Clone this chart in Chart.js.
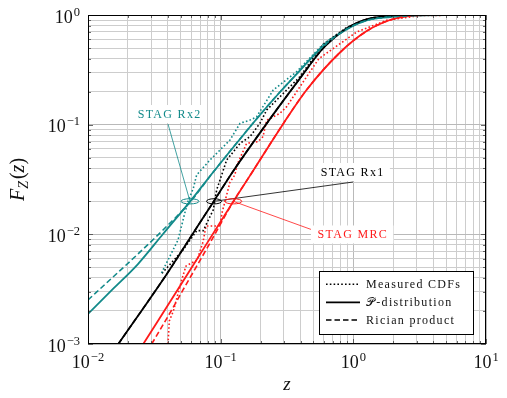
<!DOCTYPE html>
<html>
<head>
<meta charset="utf-8">
<script src="https://cdn.jsdelivr.net/npm/chart.js@4.4.0/dist/chart.umd.min.js"></script>
<style>
html, body { margin: 0; padding: 0; background: #fff; }
</style>
</head>
<body>
<canvas id="graph1" width="507" height="398"></canvas>
<script>
// --- data (z, F_Z(z)) ---
// STAG Rx2 (teal)
const rx2_meas_z  = [0.0358, 0.0401, 0.0477, 0.0536, 0.0567, 0.0622, 0.0659, 0.0831, 0.0989, 0.1176, 0.140, 0.1663, 0.1868, 0.249, 0.374, 0.594, 0.891, 1.261, 1.89, 3.18];
const rx2_meas_f  = [0.00444, 0.00583, 0.00888, 0.01555, 0.0199, 0.0263, 0.0348, 0.0476, 0.0587, 0.0725, 0.1029, 0.110, 0.118, 0.207, 0.304, 0.544, 0.76, 0.905, 0.97, 1];
const rx2_pdist_z = [0.01, 0.01543, 0.0238, 0.03675, 0.0587, 0.088, 0.1977, 0.280, 0.374, 0.594, 0.891, 1.261, 1.89, 3.18, 5.35, 10];
const rx2_pdist_f = [0.00188, 0.003175, 0.00536, 0.01007, 0.01988, 0.0370, 0.1225, 0.1986, 0.2897, 0.5216, 0.742, 0.893, 0.959, 0.9916, 0.999, 1];
const rx2_rice_z  = [0.01, 0.01543, 0.0238, 0.03675, 0.0587, 0.088, 0.1977, 0.280, 0.374, 0.594, 0.891, 1.261, 1.89, 3.18, 5.35, 10];
const rx2_rice_f  = [0.00252, 0.00408, 0.00662, 0.01095, 0.0196, 0.0370, 0.1225, 0.1986, 0.2897, 0.5216, 0.742, 0.893, 0.959, 0.9916, 0.999, 1];

// STAG Rx1 (black)
const rx1_meas_z  = [0.0361, 0.052, 0.066, 0.074, 0.0785, 0.0879, 0.0933, 0.111, 0.140, 0.1663, 0.1977, 0.2223, 0.3145, 0.396, 0.59, 0.891, 1.261, 1.89, 3.18];
const rx1_meas_f  = [0.00441, 0.0072, 0.0108, 0.0108, 0.0126, 0.0167, 0.0254, 0.0476, 0.0676, 0.0777, 0.1029, 0.136, 0.207, 0.274, 0.54, 0.77, 0.91, 0.975, 1];
const rx1_pdist_z = [0.01692, 0.0401, 0.0567, 0.0891, 0.1245, 0.2355, 0.396, 0.590, 0.891, 1.261, 1.89, 3.18, 10];
const rx1_pdist_f = [0.001, 0.00452, 0.00866, 0.02018, 0.0378, 0.1129, 0.2642, 0.495, 0.7549, 0.912, 0.981, 0.998, 1];
const rx1_rice_z  = [0.01692, 0.0401, 0.0567, 0.0891, 0.1245, 0.2355, 0.396, 0.590, 0.891, 1.261, 1.89, 3.18, 10];
const rx1_rice_f  = [0.001, 0.00452, 0.00866, 0.02018, 0.0378, 0.1129, 0.2642, 0.495, 0.7549, 0.912, 0.981, 0.998, 1];

// STAG MRC (red)
const mrc_meas_z  = [0.0401, 0.041, 0.044, 0.0511, 0.0548, 0.0664, 0.0736, 0.0775, 0.0989, 0.1023, 0.1176, 0.128, 0.1328, 0.157, 0.191, 0.2085, 0.2223, 0.280, 0.3145, 0.396, 0.55, 1.06, 1.785, 3.18, 10];
const mrc_meas_f  = [0.001, 0.00162, 0.0020, 0.00392, 0.00514, 0.00583, 0.00851, 0.0119, 0.0119, 0.01565, 0.030, 0.0348, 0.0429, 0.0676, 0.070, 0.0777, 0.110, 0.127, 0.146, 0.222, 0.40, 0.70, 0.895, 0.99, 1];
const mrc_pdist_z = [0.0261, 0.0587, 0.1245, 0.1663, 0.2965, 0.445, 0.793, 1.261, 1.89, 2.525, 3.78, 10];
const mrc_pdist_f = [0.001, 0.0047, 0.0199, 0.0343, 0.1021, 0.208, 0.4549, 0.713, 0.900, 0.973, 0.996, 1];
const mrc_rice_z  = [0.0302, 0.0415, 0.052, 0.0831, 0.1245, 0.1663, 0.2965, 0.445, 0.793, 1.261, 1.89, 2.525, 3.78, 10];
const mrc_rice_f  = [0.001, 0.00192, 0.00311, 0.00834, 0.0199, 0.0343, 0.1021, 0.208, 0.4549, 0.713, 0.900, 0.973, 0.996, 1];

// axis ticks
const x_major = [0.01, 0.1, 1, 10];
const y_major = [0.001, 0.01, 0.1, 1];

// annotations (ellipse on the curve at F=0.02, label somewhere else)
const tag_text     = ["STAG Rx2", "STAG Rx1", "STAG MRC"];
const tag_circle_z = [0.0587, 0.0891, 0.1245];
const tag_circle_f = [0.02, 0.02, 0.02];
const tag_label_z  = [0.0408, 0.977, 0.98];
const tag_label_f  = [0.125, 0.037, 0.00997];

const legend_text = ["Measured CDFs", "\u{1D4AB}-distribution", "Rician product"];

// --- styles ---
const TEAL = "#128a8a";
const RED  = "#ff1a1a";
const BLK  = "#000000";
const tag_color  = [TEAL, BLK, RED];
const tag_rx     = [9, 7.5, 8.5];
const tag_attach = [[-1, 10], [1, 10], [-41, -5]];   // leader end, relative to label centre
const DOT  = [1.6, 2.2];
const DASH = [5.5, 3];
const legend_dash = [DOT, [], DASH];
const legend_width = [1.5, 1.8, 1.6];

function pts(zs, fs){
    return zs.map((z, i) => ({x: z, y: fs[i]}));
}

function ds(zs, fs, color, dash, width, smooth){
    return {
        data: pts(zs, fs),
        borderColor: color,
        backgroundColor: color,
        borderWidth: width,
        borderDash: dash,
        pointRadius: 0,
        fill: false,
        cubicInterpolationMode: smooth ? "monotone" : "default",
        tension: 0,
    };
}

function logTicks(lo, hi){
    let out = [];
    for (let k = Math.round(Math.log10(lo)); k < Math.round(Math.log10(hi)); k++){
        for (let m = 1; m < 10; m++) out.push({value: m * Math.pow(10, k)});
    }
    out.push({value: hi});
    return out;
}

function isMajor(v){
    const l = Math.log10(v);
    return Math.abs(l - Math.round(l)) < 1e-6;
}

// 10^k label, anchor: "center" (x axis) or "right" (y axis)
function powLabel(ctx, v, x, base, anchor){
    const e = Math.round(Math.log10(v));
    const es = (e < 0 ? "\u2212" : "") + Math.abs(e);
    ctx.font = "18px 'Liberation Serif', serif";
    const w1 = ctx.measureText("10").width;
    ctx.font = "12.5px 'Liberation Serif', serif";
    const w2 = ctx.measureText(es).width;
    const tot = w1 + 1 + w2;
    let x0 = anchor === "center" ? x - tot / 2 : x - tot;
    ctx.textAlign = "left";
    ctx.textBaseline = "alphabetic";
    ctx.fillStyle = "#111";
    ctx.font = "18px 'Liberation Serif', serif";
    ctx.fillText("10", x0, base);
    ctx.font = "12.5px 'Liberation Serif', serif";
    ctx.fillText(es, x0 + w1 + 1, base - 7);
}

const deco = {
    id: "deco",
    afterDatasetsDraw(chart){
        const ctx = chart.ctx;
        const a = chart.chartArea;
        const sx = chart.scales.x, sy = chart.scales.y;
        ctx.save();

        // small inner tick marks
        ctx.strokeStyle = "#444";
        ctx.lineWidth = 0.8;
        for (let t of sx.ticks){
            const px = Math.round(sx.getPixelForValue(t.value)) + 0.5;
            const len = isMajor(t.value) ? 5 : 3;
            ctx.beginPath();
            ctx.moveTo(px, a.bottom); ctx.lineTo(px, a.bottom - len);
            ctx.moveTo(px, a.top); ctx.lineTo(px, a.top + len);
            ctx.stroke();
        }
        for (let t of sy.ticks){
            const py = Math.round(sy.getPixelForValue(t.value)) + 0.5;
            const len = isMajor(t.value) ? 5 : 3;
            ctx.beginPath();
            ctx.moveTo(a.left, py); ctx.lineTo(a.left + len, py);
            ctx.moveTo(a.right, py); ctx.lineTo(a.right - len, py);
            ctx.stroke();
        }

        // frame
        ctx.strokeStyle = "#000";
        ctx.lineWidth = 1;
        ctx.strokeRect(a.left + 0.5, a.top + 0.5, a.right - a.left - 1, a.bottom - a.top - 1);

        // annotations
        ctx.font = "12px 'Liberation Serif', serif";
        ctx.letterSpacing = "1.3px";
        for (let i = 0; i < tag_text.length; i++){
            const ex = sx.getPixelForValue(tag_circle_z[i]);
            const ey = sy.getPixelForValue(tag_circle_f[i]);
            const lx = sx.getPixelForValue(tag_label_z[i]);
            const ly = sy.getPixelForValue(tag_label_f[i]);
            ctx.strokeStyle = tag_color[i];
            ctx.lineWidth = 0.8;
            ctx.beginPath();
            ctx.moveTo(ex, ey);
            ctx.lineTo(lx + tag_attach[i][0], ly + tag_attach[i][1]);
            ctx.stroke();
            ctx.lineWidth = 1;
            ctx.beginPath();
            ctx.ellipse(ex, ey, tag_rx[i], 2.6, 0, 0, Math.PI * 2);
            ctx.stroke();

            const w = ctx.measureText(tag_text[i]).width;
            ctx.fillStyle = "#fff";
            ctx.fillRect(lx - w / 2 - 6, ly - 9, w + 12, 18);
            ctx.fillStyle = tag_color[i];
            ctx.textAlign = "center";
            ctx.textBaseline = "middle";
            ctx.fillText(tag_text[i], lx + 0.6, ly + 0.5);
        }

        // legend
        const bw = 154, bh = 63;
        const bx = a.right - 13 - bw, by = a.bottom - 10 - bh;
        ctx.fillStyle = "#fff";
        ctx.fillRect(bx, by, bw, bh);
        ctx.strokeStyle = "#000";
        ctx.lineWidth = 1;
        ctx.setLineDash([]);
        ctx.strokeRect(bx + 0.5, by + 0.5, bw, bh);
        const rows = [13.3, 31.3, 49];
        for (let i = 0; i < legend_text.length; i++){
            const yy = by + rows[i];
            ctx.setLineDash(legend_dash[i]);
            ctx.lineWidth = legend_width[i];
            ctx.beginPath();
            ctx.moveTo(bx + 7, yy); ctx.lineTo(bx + 41, yy);
            ctx.stroke();
            ctx.setLineDash([]);
            ctx.fillStyle = "#111";
            ctx.textAlign = "left";
            ctx.textBaseline = "middle";
            ctx.fillText(legend_text[i], bx + 47, yy + 0.5);
        }
        ctx.letterSpacing = "0px";
        ctx.restore();
    },
    afterDraw(chart){
        const ctx = chart.ctx;
        const a = chart.chartArea;
        const sx = chart.scales.x, sy = chart.scales.y;
        ctx.save();
        for (let v of x_major) powLabel(ctx, v, sx.getPixelForValue(v), a.bottom + 24, "center");
        for (let v of y_major) powLabel(ctx, v, a.left - 8, sy.getPixelForValue(v) + 7.5, "right");

        // x title
        ctx.fillStyle = "#111";
        ctx.font = "italic 19px 'Liberation Serif', serif";
        ctx.textAlign = "center";
        ctx.textBaseline = "alphabetic";
        ctx.fillText("z", (a.left + a.right) / 2, 390);

        // y title F_Z(z)
        ctx.translate(24, (a.top + a.bottom) / 2);
        ctx.rotate(-Math.PI / 2);
        const parts = [
            ["F", "italic 20px 'Liberation Serif', serif", 0],
            ["Z", "italic 14px 'Liberation Serif', serif", 4],
            ["(", "20px 'Liberation Serif', serif", 0],
            ["z", "italic 20px 'Liberation Serif', serif", 0],
            [")", "20px 'Liberation Serif', serif", 0],
        ];
        let tot = 0;
        for (let p of parts){ ctx.font = p[1]; tot += ctx.measureText(p[0]).width; }
        tot += 2;
        let cx = -tot / 2;
        ctx.textAlign = "left";
        for (let p of parts){
            ctx.font = p[1];
            ctx.fillText(p[0], cx, p[2]);
            cx += ctx.measureText(p[0]).width + (p[0] === "Z" ? 2 : 0);
        }
        ctx.restore();
    }
};

const gridColor = (c) => isMajor(c.tick.value) ? "#b9b9b9" : "#cdcdcd";

const ctx = document.getElementById("graph1").getContext("2d");
const myChart = new Chart(ctx, {
    type: "line",
    data: {
        datasets: [
            ds(rx2_rice_z,  rx2_rice_f,  TEAL, DASH, 1.6, true),
            ds(rx1_rice_z,  rx1_rice_f,  BLK,  DASH, 1.6, true),
            ds(mrc_rice_z,  mrc_rice_f,  RED,  DASH, 1.6, true),
            ds(rx2_pdist_z, rx2_pdist_f, TEAL, [],   1.8, true),
            ds(rx1_pdist_z, rx1_pdist_f, BLK,  [],   1.8, true),
            ds(mrc_pdist_z, mrc_pdist_f, RED,  [],   1.8, true),
            ds(rx2_meas_z,  rx2_meas_f,  TEAL, DOT,  1.6, false),
            ds(rx1_meas_z,  rx1_meas_f,  BLK,  DOT,  1.6, false),
            ds(mrc_meas_z,  mrc_meas_f,  RED,  DOT,  1.6, false),
        ]
    },
    options: {
        responsive: false,
        animation: false,
        devicePixelRatio: 1,
        layout: { padding: { left: 88, right: 21, top: 15, bottom: 54 } },
        plugins: { legend: { display: false }, tooltip: { enabled: false } },
        scales: {
            x: {
                type: "logarithmic",
                min: 0.01, max: 10,
                afterBuildTicks: (s) => { s.ticks = logTicks(0.01, 10); },
                ticks: { display: false },
                border: { display: false },
                grid: { drawTicks: false, lineWidth: 1, color: gridColor },
            },
            y: {
                type: "logarithmic",
                min: 0.001, max: 1,
                afterBuildTicks: (s) => { s.ticks = logTicks(0.001, 1); },
                ticks: { display: false },
                border: { display: false },
                grid: { drawTicks: false, lineWidth: 1, color: gridColor },
            }
        }
    },
    plugins: [deco]
});
</script>
</body>
</html>
